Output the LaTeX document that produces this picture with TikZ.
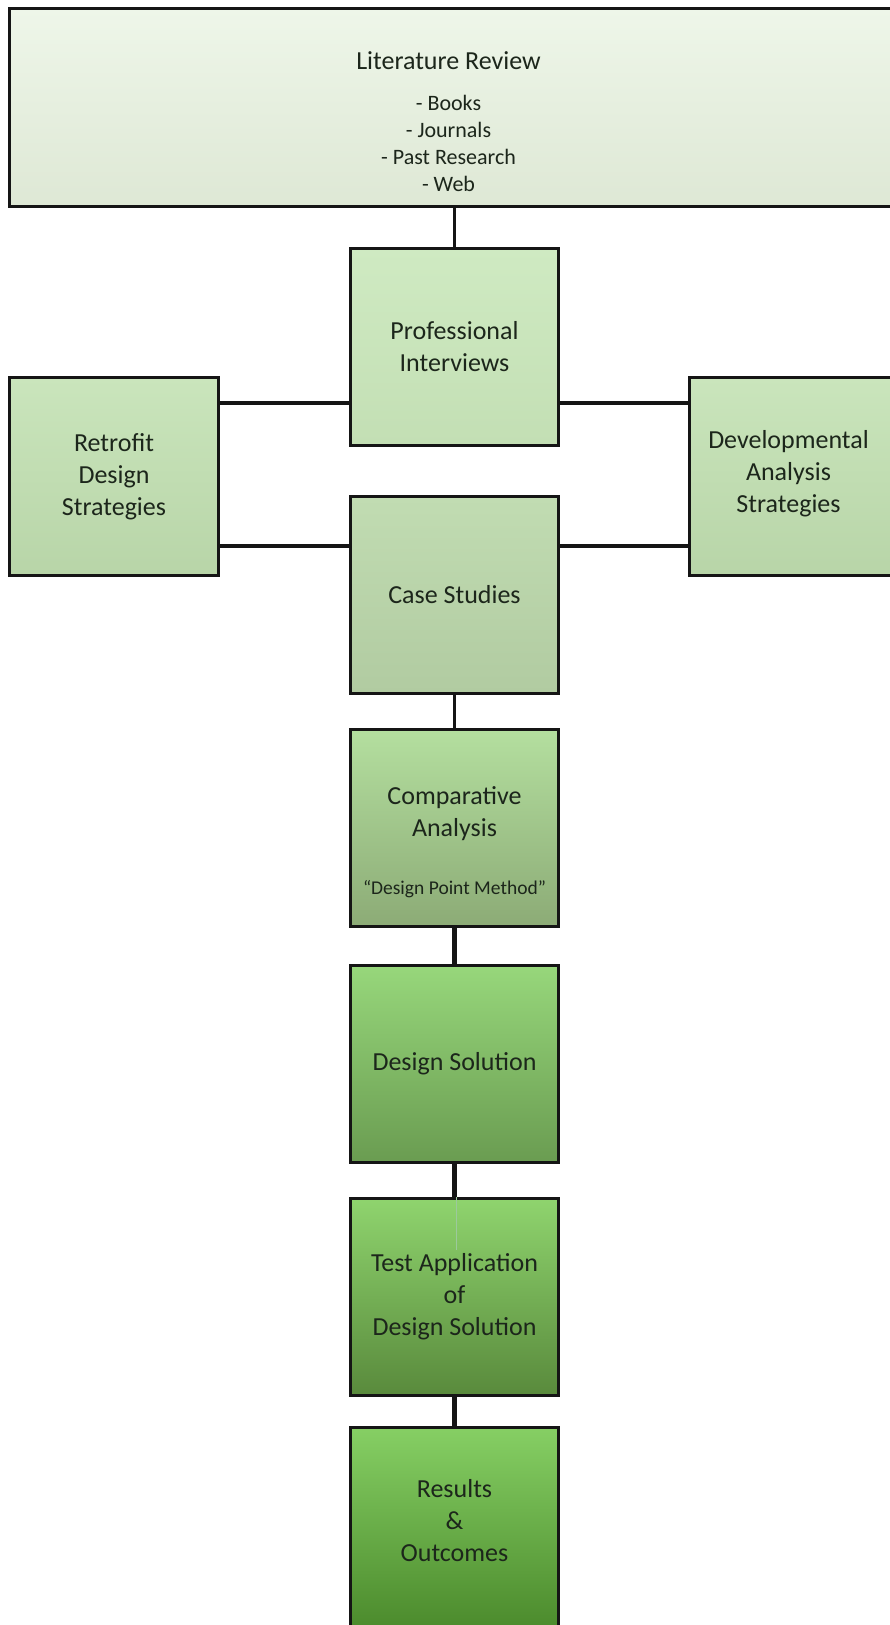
\documentclass[tikz,border=0pt]{standalone}
\usepackage{fontspec}
\setmainfont{Carlito}
\usetikzlibrary{positioning,calc}

\definecolor{ink}{HTML}{1C261B}
\definecolor{edge}{HTML}{151515}
\definecolor{litT}{HTML}{EEF6E9}\definecolor{litB}{HTML}{DEE8D5}
\definecolor{profT}{HTML}{CFEAC2}\definecolor{profB}{HTML}{C3DFB4}
\definecolor{caseT}{HTML}{C1DCB2}\definecolor{caseB}{HTML}{B1CBA1}
\definecolor{compT}{HTML}{B4DF9F}\definecolor{compB}{HTML}{8CAB76}
\definecolor{dsolT}{HTML}{97D77B}\definecolor{dsolB}{HTML}{6A9C51}
\definecolor{testT}{HTML}{8FD46E}\definecolor{testB}{HTML}{598A3C}
\definecolor{resT}{HTML}{86CF64}\definecolor{resB}{HTML}{4A892B}
\definecolor{sideT}{HTML}{CAE5BC}\definecolor{sideB}{HTML}{B8D5A8}

\begin{document}
\begin{tikzpicture}[x=1pt,y=-1pt,
		box/.style={draw=edge,line width=3pt,align=center,text=ink,inner sep=0pt,
			font=\fontsize{26}{32}\selectfont},
		col/.style={box,minimum width=208pt,minimum height=197pt},
		side/.style={box,minimum height=198pt},
		grad/.style={top color=#1T,bottom color=#1B},
		txt/.style={text=ink,align=center,font=\fontsize{26}{32}\selectfont},
		link/.style={draw=edge,line width=3.5pt},
		thick link/.style={draw=edge,line width=5.5pt},
		ghost/.style={draw=green!30!gray!60,line width=1pt}
		]
		\useasboundingbox (0,0) rectangle (890,1625);
		% literature box across the top (runs off the right edge)
		\node[box,minimum width=890pt,minimum height=198pt,grad=lit] (lit) at (454.75,107.5) {};
		\node[txt,font=\fontsize{22}{27}\selectfont] (littxt) at (448.5,122)
			{{\fontsize{26}{32}\selectfont Literature Review}\\[14pt]- Books\\- Journals\\- Past Research\\- Web};
		% centre column
		\node[col,grad=prof] (prof) at (454.5,347) {Professional\\Interviews};
		\node[col,grad=case,below=48pt of prof] (case) {Case Studies};
		\node[col,grad=comp,below=33pt of case] (comp) {};
		\node[txt] (comptxt) at ($(comp.center)+(0,14)$)
			{Comparative\\Analysis\\[26pt]{\fontsize{19.5}{24}\selectfont “Design Point Method”}};
		\node[col,grad=dsol,below=36pt of comp] (dsol) {Design Solution};
		\node[col,grad=test,below=33pt of dsol] (test) {Test Application\\of\\Design Solution};
		\node[col,minimum height=206pt,grad=res,below=29pt of test] (res) {};
		\node[txt] (restxt) at ($(res.north)+(0,95)$) {Results\\\&\\Outcomes};
		% side boxes
		\node[side,minimum width=209pt,grad=side] (retro) at (114,476.5) {Retrofit\\Design\\Strategies};
		\node[side,minimum width=210pt,grad=side] (dev) at (794.5,476.5) {};
		\node[txt] (devtxt) at (788.5,474) {Developmental\\Analysis\\Strategies};
		\coordinate (up) at (0,403);
		\coordinate (lo) at (0,546);
		\coordinate (stub) at ($(test.north)+(1.5,53)$);
		% connectors
		\draw[link] (prof.north) -- (prof.north |- lit.south);
		\draw[link] (retro.east |- up) -- (prof.west |- up);
		\draw[link] (prof.east |- up) -- (dev.west |- up);
		\draw[link] (retro.east |- lo) -- (case.west |- lo);
		\draw[link] (case.east |- lo) -- (dev.west |- lo);
		\draw[link] (case.south) -- (comp.north);
		\draw[thick link] (comp.south) -- (dsol.north);
		\draw[thick link] (dsol.south) -- (test.north);
		\draw[thick link] (test.south) -- (res.north);
		\draw[ghost] (stub |- test.north) -- (stub);
\end{tikzpicture}
\end{document}
